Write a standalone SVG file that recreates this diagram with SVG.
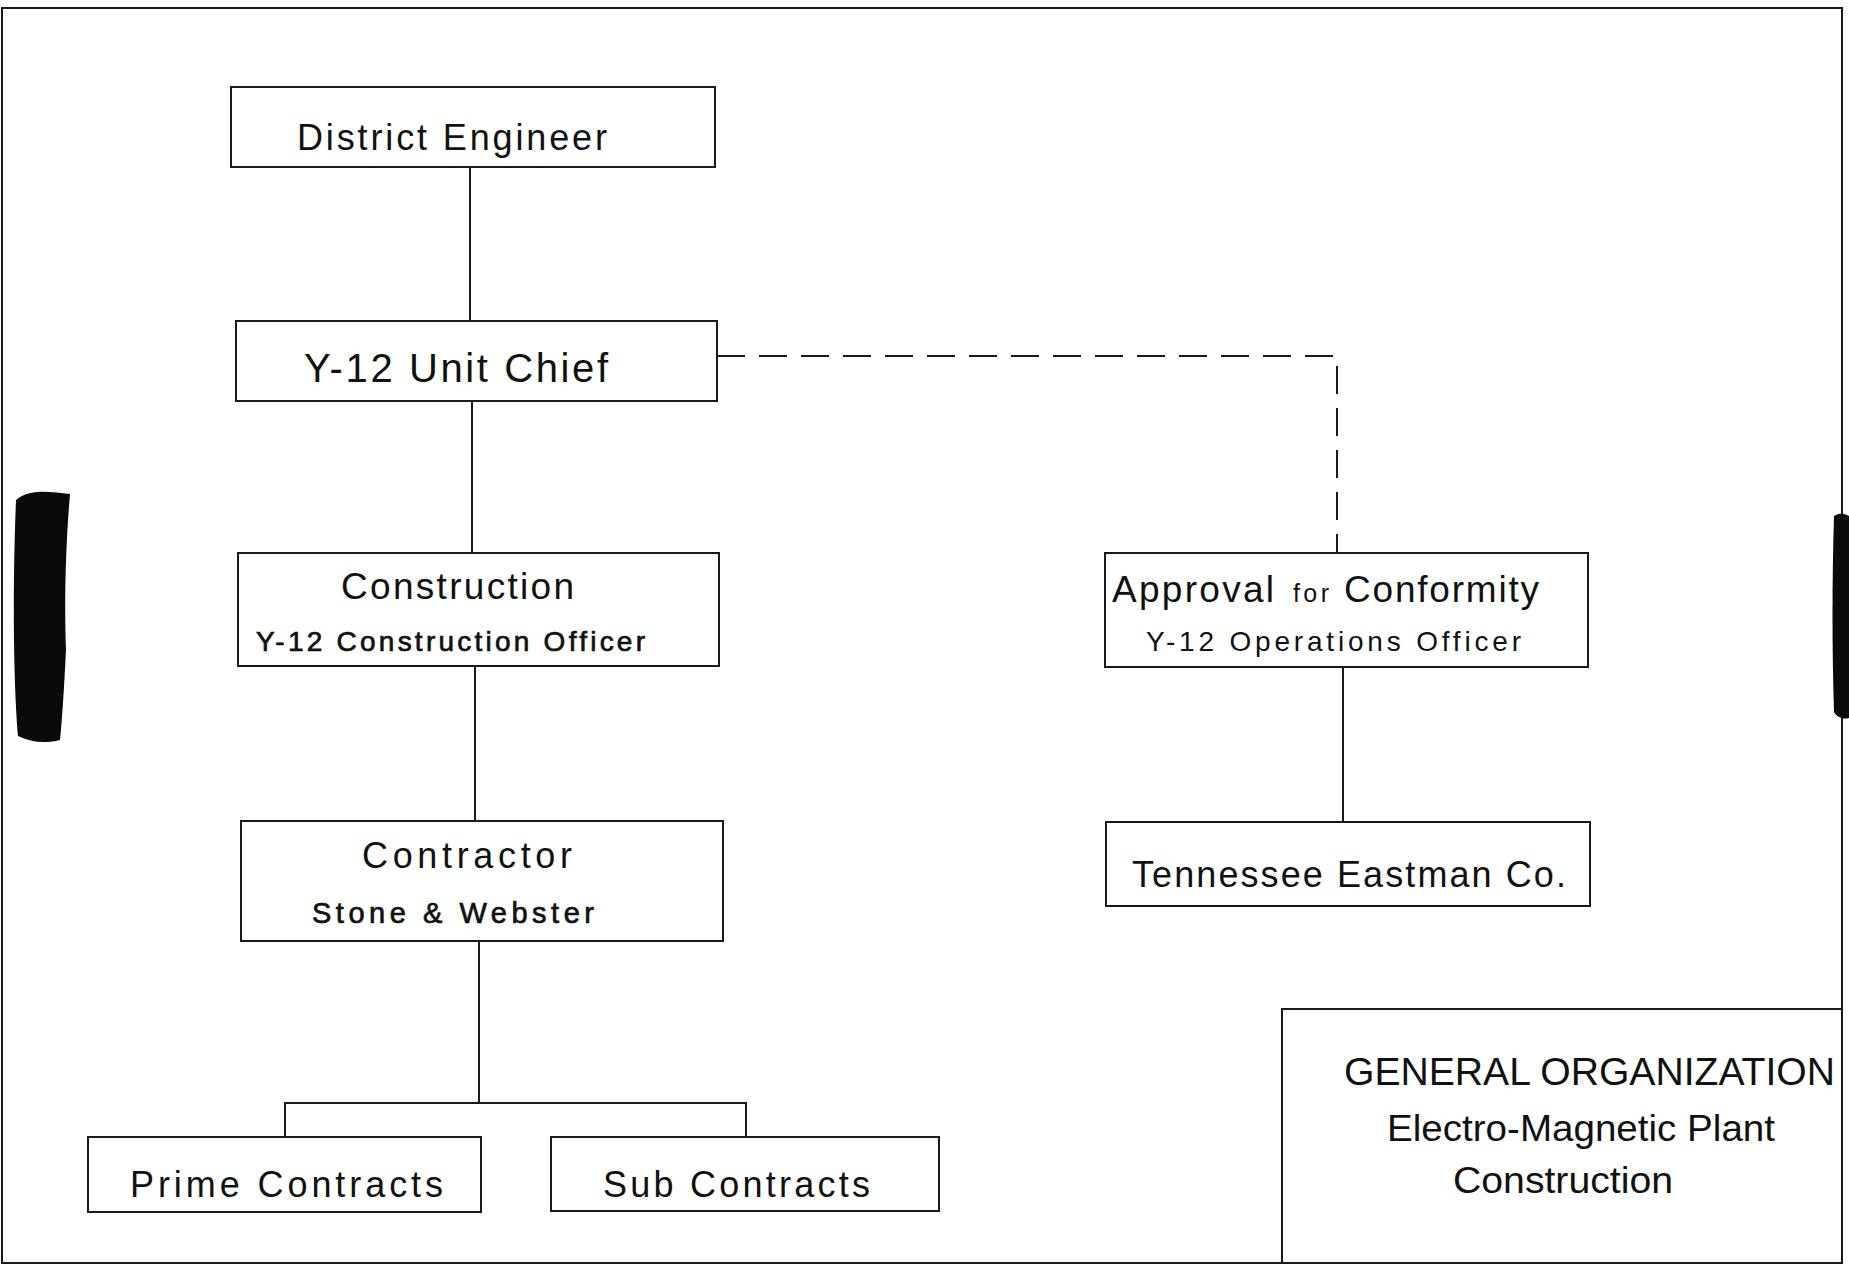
<svg xmlns="http://www.w3.org/2000/svg" width="1849" height="1266" viewBox="0 0 1849 1266">
<style>
.box{fill:none;stroke:#1a1a1a;stroke-width:2}
.ln{fill:none;stroke:#1a1a1a;stroke-width:2}
.dash{fill:none;stroke:#1a1a1a;stroke-width:2;stroke-dasharray:28 14}
text{font-family:"Liberation Sans",Arial,sans-serif;fill:#111}
.med{stroke:#111;stroke-width:0.7}
</style>
<rect width="1849" height="1266" fill="#fff"/>
<g id="page-border">
<path class="ln" d="M2,8 H1842 V1263 H2 Z"/>
</g>
<g id="scan-marks">
<path d="M16,500 C30,488 50,492 70,494 C66,540 64,600 66,650 C64,690 62,720 60,740 C45,744 30,742 18,736 C14,690 12,600 16,500 Z" fill="#0a0a0a"/>
<path d="M1834,516 C1840,512 1846,514 1849,516 L1849,718 C1842,720 1836,716 1834,712 C1832,650 1832,580 1834,516 Z" fill="#0a0a0a"/>
</g>
<g id="connectors">
<path class="ln" d="M470,167 V321"/>
<path class="ln" d="M472,401 V553"/>
<path class="ln" d="M475,666 V821"/>
<path class="ln" d="M479,941 V1103"/>
<path class="ln" d="M285,1137 V1103 H746 V1137"/>
<path class="dash" d="M717,356 H1337 V553"/>
<path class="ln" d="M1343,667 V822"/>
</g>
<g id="district-engineer">
<rect class="box" x="231" y="87" width="484" height="80"/>
<text x="297" y="150" font-size="36" textLength="310" lengthAdjust="spacing">District Engineer</text>
</g>
<g id="y12-unit-chief">
<rect class="box" x="236" y="321" width="481" height="80"/>
<text x="304" y="382" font-size="40" textLength="304" lengthAdjust="spacing">Y-12 Unit Chief</text>
</g>
<g id="construction">
<rect class="box" x="238" y="553" width="481" height="113"/>
<text x="341" y="599" font-size="37" textLength="233" lengthAdjust="spacing">Construction</text>
<text class="med" x="256" y="651" font-size="28" textLength="389" lengthAdjust="spacing">Y-12 Construction Officer</text>
</g>
<g id="contractor">
<rect class="box" x="241" y="821" width="482" height="120"/>
<text x="362" y="868" font-size="36" textLength="210" lengthAdjust="spacing">Contractor</text>
<text class="med" x="312" y="923" font-size="29" textLength="282" lengthAdjust="spacing">Stone &amp; Webster</text>
</g>
<g id="prime-contracts">
<rect class="box" x="88" y="1137" width="393" height="75"/>
<text x="130" y="1197" font-size="36" textLength="313" lengthAdjust="spacing">Prime Contracts</text>
</g>
<g id="sub-contracts">
<rect class="box" x="551" y="1137" width="388" height="74"/>
<text x="603" y="1197" font-size="36" textLength="267" lengthAdjust="spacing">Sub Contracts</text>
</g>
<g id="approval">
<rect class="box" x="1105" y="553" width="483" height="114"/>
<text x="1112" y="602" font-size="37" textLength="162" lengthAdjust="spacing">Approval</text>
<text x="1293" y="602" font-size="25" textLength="36" lengthAdjust="spacing">for</text>
<text x="1344" y="602" font-size="37" textLength="195" lengthAdjust="spacing">Conformity</text>
<text x="1146" y="651" font-size="28" textLength="375" lengthAdjust="spacing">Y-12 Operations Officer</text>
</g>
<g id="tennessee-eastman">
<rect class="box" x="1106" y="822" width="484" height="84"/>
<text x="1132" y="887" font-size="36" textLength="434" lengthAdjust="spacing">Tennessee Eastman Co.</text>
</g>
<g id="title-block">
<path class="ln" d="M1282,1263 V1009 H1842"/>
<text x="1344" y="1085" font-size="39" textLength="491" lengthAdjust="spacingAndGlyphs">GENERAL ORGANIZATION</text>
<text x="1387" y="1141" font-size="36" textLength="388" lengthAdjust="spacingAndGlyphs">Electro-Magnetic Plant</text>
<text x="1453" y="1193" font-size="36" textLength="220" lengthAdjust="spacingAndGlyphs">Construction</text>
</g>
</svg>
